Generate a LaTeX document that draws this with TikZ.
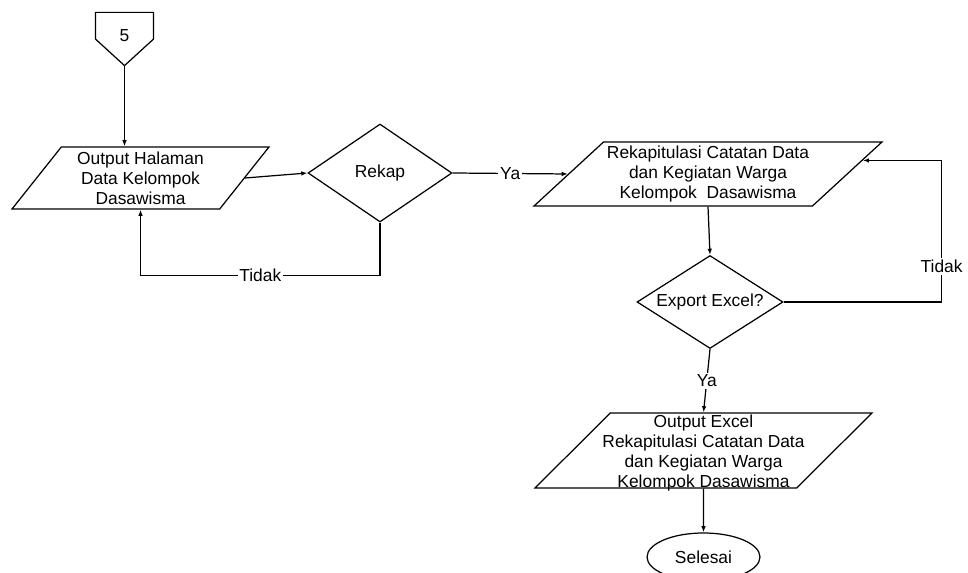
\documentclass[tikz,border=0pt]{standalone}
\usepackage{fontspec}
\setmainfont{Liberation Sans}
\usepackage{tikz}
\usetikzlibrary{arrows.meta, positioning, shapes.geometric, calc}

\begin{document}
\begin{tikzpicture}[
  x=0.02cm, y=-0.02cm,
  every node/.style={font=\fontsize{9.9}{11.4}\selectfont, line width=0.7pt},
  io/.style={draw, trapezium, trapezium stretches body, align=center,
             inner xsep=-12pt, inner ysep=0pt},
  decision/.style={draw, diamond, align=center, inner sep=0pt},
  term/.style={draw, ellipse, inner sep=0pt, minimum width=2.26cm, minimum height=0.96cm},
  lbl/.style={fill=white, inner sep=1pt},
  arr/.style={-{Latex[length=3.5pt,width=2.6pt]}, line width=0.7pt}
]
\useasboundingbox (0,0) rectangle (968,573);

% off-page connector
\node[inner sep=0pt, text height=6.9pt, text depth=4.6pt,
      minimum width=1.14cm, minimum height=1.04cm] (conn) at (124.5,39) {5};
\draw[line width=0.7pt] (conn.north west) -- (conn.north east) -- (conn.east)
  -- (conn.south) -- (conn.west) -- cycle;

\node[io, trapezium left angle=47, trapezium right angle=133,
      minimum width=5.14cm, minimum height=1.24cm] (out1) at (140.5,178)
  {Output Halaman\\Data Kelompok\\Dasawisma};
\node[decision, aspect=1.47, minimum width=2.88cm, minimum height=1.96cm] (rekap) at (380,173) {Rekap};
\node[io, trapezium left angle=39, trapezium right angle=141,
      minimum width=6.96cm, minimum height=1.28cm] (rekap2) at (708,174)
  {Rekapitulasi Catatan Data\\dan Kegiatan Warga\\Kelompok\ \ Dasawisma};
\node[decision, aspect=1.57, minimum width=2.92cm, minimum height=1.86cm] (export) at (710,302) {Export Excel?};
\node[io, trapezium left angle=44, trapezium right angle=136, inner ysep=-2.7pt,
      minimum width=6.74cm, minimum height=1.5cm] (out2) at (703.5,450.5)
  {\rule{0pt}{10.5pt}Output Excel\\Rekapitulasi Catatan Data\\dan Kegiatan Warga\\Kelompok Dasawisma};
\node[term] (done) at (703.5,557) {Selesai};

\draw[arr] (conn.south) -- (conn.south |- out1.north);
\draw[arr] (out1.east) -- (rekap.west);
\draw[arr] (rekap.east) -- node[lbl] {Ya} (rekap2.west);
\draw[arr] (rekap.south) -- ++(0,53) -| node[lbl, pos=0.25] {Tidak} (out1.south);
\draw[arr] (rekap2.south) -- (export.north);
\draw[arr] (export.east) -- ++(158,0) |- node[lbl, pos=0.125] {Tidak} (rekap2.5.6);
\draw[arr] (export.south) -- node[lbl] {Ya} (out2.north);
\draw[arr] (out2.south) -- (done.north);
\end{tikzpicture}
\end{document}
